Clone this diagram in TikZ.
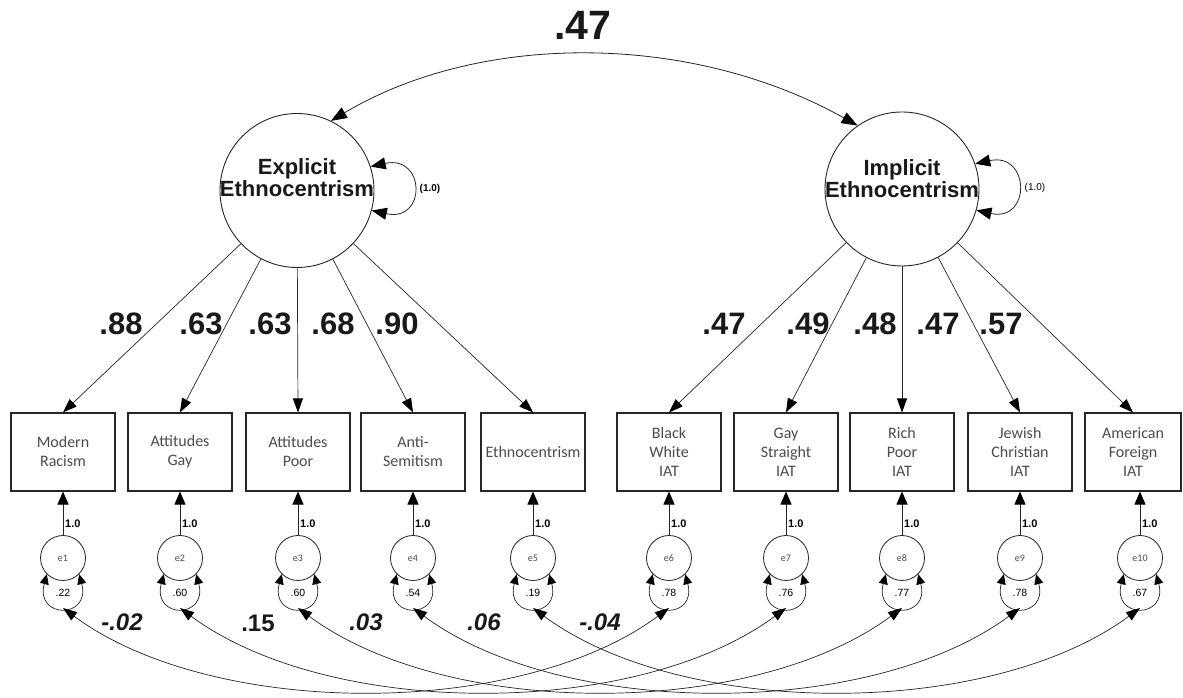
\documentclass[tikz,border=0pt]{standalone}
\usepackage{fontspec}
\setmainfont{Liberation Sans}
\newfontfamily\obsfont{Carlito}
\usetikzlibrary{arrows.meta,calc}

\tikzset{
  ink/.style={draw=black!85},
  latent/.style={circle, ink, line width=0.9pt, minimum size=154pt, inner sep=0pt},
  latlabel/.style={font=\fontsize{22}{22}\selectfont\bfseries, align=center, text=black!90},
  observed/.style={rectangle, ink, line width=1.1pt, minimum width=104pt, minimum height=78pt,
    inner sep=0pt, align=center, font=\obsfont\fontsize{16}{19}\selectfont, text=black!70},
  errnode/.style={circle, ink, line width=0.8pt, minimum size=45pt, inner sep=0pt,
    font=\obsfont\fontsize{10}{10}\selectfont, text=black!70},
  load/.style={ink, line width=0.7pt, -{Triangle[length=14pt,width=10pt,color=black]}},
  errarrow/.style={ink, line width=1pt, -{Triangle[length=13pt,width=11pt,color=black]}},
  varloop/.style={ink, line width=0.7pt, {Triangle[length=10pt,width=9pt,color=black]}-{Triangle[length=10pt,width=9pt,color=black]}},
  latloop/.style={ink, line width=0.8pt, {Triangle[length=15pt,width=12pt,color=black]}-{Triangle[length=15pt,width=12pt,color=black]}},
  cov/.style={ink, line width=0.7pt, {Triangle[length=14pt,width=10pt,color=black]}-{Triangle[length=14pt,width=10pt,color=black]}},
  bigcov/.style={ink, line width=0.8pt, {Triangle[length=16pt,width=12pt,color=black]}-{Triangle[length=16pt,width=12pt,color=black]}},
  loadlabel/.style={font=\fontsize{31}{31}\selectfont\bfseries, text=black!90},
  covlabel/.style={font=\fontsize{24}{24}\selectfont\bfseries\itshape, text=black!90},
  covlabelup/.style={font=\fontsize{24}{24}\selectfont\bfseries, text=black!90},
  onelabel/.style={font=\fontsize{11}{11}\selectfont\bfseries, anchor=west, inner sep=0pt},
  varlabel/.style={font=\fontsize{10.5}{10.5}\selectfont, inner sep=0pt},
  fixlabel/.style={font=\fontsize{10}{10}\selectfont, inner sep=0pt},
}

\begin{document}
\begin{tikzpicture}[x=1pt,y=1pt]
\useasboundingbox[fill=white] (0,0) rectangle (1183,698);

% latent factors
\node[latent] (E) at (297,507.5) {};
\node[latent] (I) at (902,509) {};
\node[latlabel] (Et) at (297,520) {Explicit\\Ethnocentrism};
\node[latlabel] (It) at (902,519) {Implicit\\Ethnocentrism};

% factor variances
\draw[latloop] (E.18) .. controls +(55,12) and +(55,-12) .. (E.-15);
\draw[latloop] (I.19) .. controls +(55,12) and +(55,-12) .. (I.-16);
\node[fixlabel, font=\fontsize{10}{10}\selectfont\bfseries] (Ev) at (430,509) {(1.0)};
\node[fixlabel] (Iv) at (1035,510) {(1.0)};

% factor covariance
\draw[bigcov] (E.64) .. controls (480,666) and (690,666) .. (I.125);
\node[font=\fontsize{41}{41}\selectfont\bfseries, text=black!90] (r) at (583,673) {.47};

% observed indicators
\node[observed] (b1) at (63,246) {Modern\\Racism};
\node[observed] (b2) at (180,246) {Attitudes\\Gay};
\node[observed] (b3) at (298,246) {Attitudes\\Poor};
\node[observed] (b4) at (413,246) {Anti-\\Semitism};
\node[observed] (b5) at (533,246) {Ethnocentrism};
\node[observed] (b6) at (669,246) {Black\\White\\IAT};
\node[observed] (b7) at (786,246) {Gay\\Straight\\IAT};
\node[observed] (b8) at (902,246) {Rich\\Poor\\IAT};
\node[observed] (b9) at (1020,246) {Jewish\\Christian\\IAT};
\node[observed, minimum width=96pt] (b10) at (1133,246) {American\\Foreign\\IAT};

% loadings
\foreach \b in {1,...,5} \draw[load] (E) -- (b\b.north);
\foreach \b in {6,...,10} \draw[load] (I) -- (b\b.north);
\node[loadlabel] (l1) at (121,374) {.88};
\node[loadlabel] (l2) at (201,374) {.63};
\node[loadlabel] (l3) at (270,374) {.63};
\node[loadlabel] (l4) at (333,374) {.68};
\node[loadlabel] (l5) at (397,374) {.90};
\node[loadlabel] (l6) at (724,374) {.47};
\node[loadlabel] (l7) at (808,374) {.49};
\node[loadlabel] (l8) at (875,374) {.48};
\node[loadlabel] (l9) at (938,374) {.47};
\node[loadlabel] (l10) at (1001,374) {.57};

% residuals
\foreach \i/\x/\v in {1/63/.22, 2/180/.60, 3/298/.60, 4/413/.54, 5/533/.19,
                      6/669/.78, 7/786/.76, 8/902/.77, 9/1020/.78, 10/1140/.67}{
  \node[errnode] (e\i) at (\x,140) {e\i};
  \draw[errarrow] (e\i.north) -- (e\i.north |- b\i.south);
  \node[onelabel] (o\i) at ($(e\i.north)+(2,11)$) {1.0};
  \draw[varloop] (e\i.225) .. controls +(-12,-45) and +(12,-45) .. (e\i.-45);
  \node[varlabel] (v\i) at ($(e\i.center)+(0,-35)$) {\v};
  \coordinate (c\i) at ($(e\i.center)+(0,-50)$);
}

% residual covariances
\foreach \a/\b in {1/6, 2/7, 3/8, 4/9, 5/10}
  \draw[cov] (c\a) .. controls +(150,-111) and +(-150,-111) .. (c\b);
\node[covlabel] (k1) at (122,76) {-.02};
\node[covlabelup] (k2) at (258,75) {.15};
\node[covlabel] (k3) at (366,76) {.03};
\node[covlabel] (k4) at (484,76) {.06};
\node[covlabel] (k5) at (600,76) {-.04};
\end{tikzpicture}
\end{document}
